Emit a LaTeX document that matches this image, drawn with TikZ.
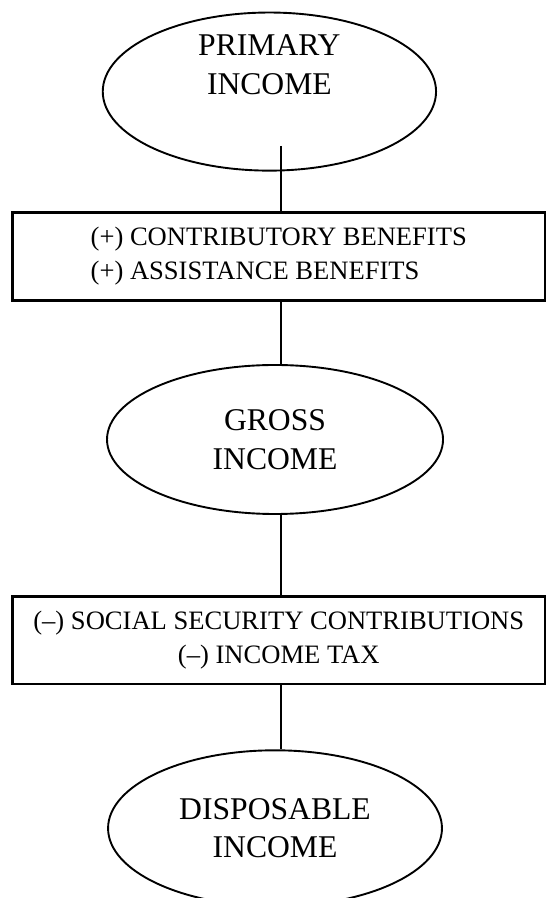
\documentclass[tikz,border=0pt]{standalone}
\usepackage{fontspec}
\setmainfont{Liberation Serif}
\usetikzlibrary{shapes, positioning}

\begin{document}
\begin{tikzpicture}[line width=1.8pt,
    ovaltext/.style={align=center, font=\fontsize{30}{36.4}\selectfont},
    oval/.style={ellipse, draw, inner sep=0pt, ovaltext},
    bar/.style={rectangle, draw, line width=2.4pt, minimum width=17.75cm, minimum height=2.92cm, inner sep=0pt, font=\fontsize{25.2}{32.4}\selectfont}]
        \useasboundingbox (0, 0) rectangle (18.2, 29.933);
        \node[oval, minimum width=11.11cm, minimum height=5.27cm, label={[ovaltext, yshift=0.9cm]center:PRIMARY\\INCOME}] (pi) at (8.98, 26.88) {};
        \node[bar, align=left] (cb) at (9.292, 21.383) {(+) CONTRIBUTORY BENEFITS\\(+) ASSISTANCE BENEFITS};
        \node[oval, minimum width=11.2cm, minimum height=4.967cm] (gi) at (9.167, 15.283) {GROSS\\INCOME};
        \node[bar, align=center] (ss) at (9.292, 8.597) {(\textendash) SOCIAL SECURITY CONTRIBUTIONS\\(\textendash) INCOME TAX};
        \node[oval, minimum width=11.13cm, minimum height=5.2cm] (di) at (9.167, 2.323) {DISPOSABLE\\INCOME};
        \coordinate (s) at (9.367, 25.067);
        \draw (s) -- (s |- cb.north);
        \draw (s |- cb.south) -- (s |- gi.north);
        \draw (s |- gi.south) -- (s |- ss.north);
        \draw (s |- ss.south) -- (s |- di.north);
      \end{tikzpicture}
\end{document}
